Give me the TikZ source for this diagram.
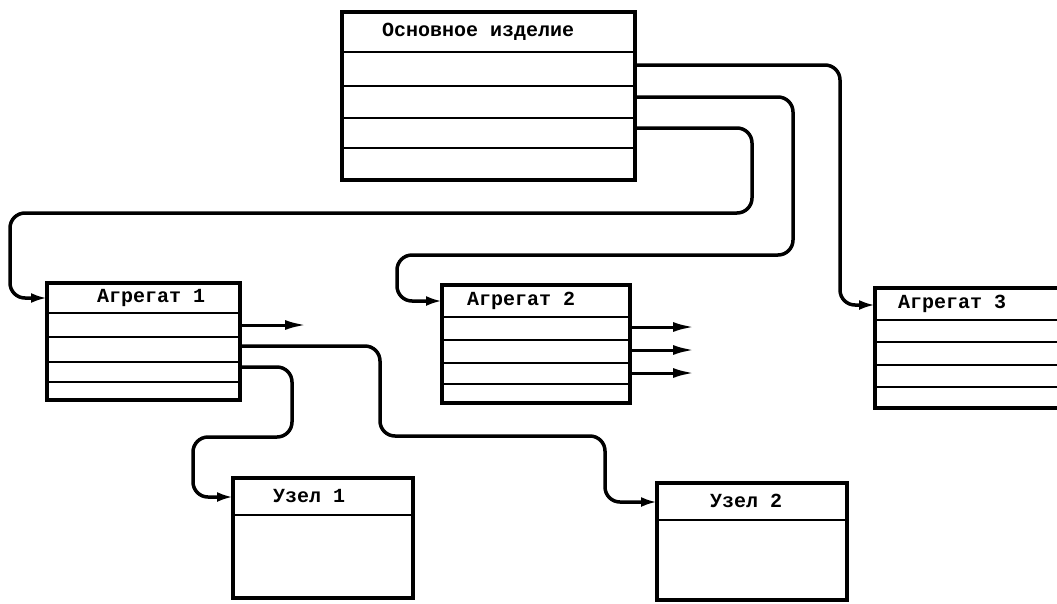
\documentclass[tikz,border=0pt]{standalone}
\usepackage{fontspec}
\newfontfamily\typewriter{Liberation Mono}
\usetikzlibrary{arrows.meta,positioning,calc}

\begin{document}
\begin{tikzpicture}[
  x=1pt, y=-1pt,
  table/.style={
    draw,
    line width=3.5pt,
    inner sep=0pt,
    outer sep=0pt,
    anchor=north west
  },
  rowline/.style={line width=2.5pt},
  title/.style={anchor=west, inner sep=0pt, font=\typewriter\bfseries\fontsize{20}{22}\selectfont},
  conn/.style={line width=3.5pt, rounded corners=15pt, -{Latex[length=16pt,width=10pt]}},
  stub/.style={line width=3pt, -{Latex[length=21pt,width=10pt]}}
]
  \clip (0,0) rectangle (1057,603);
  % tables
  \node[table, minimum width=293pt, minimum height=168pt] (osn) at (342,12) {};
  \node[table, minimum width=193pt, minimum height=117pt] (agr1) at (47,283) {};
  \node[table, minimum width=188pt, minimum height=118pt] (agr2) at (442,285) {};
  \node[table, minimum width=250pt, minimum height=120pt] (agr3) at (875,288) {};
  \node[table, minimum width=180pt, minimum height=120pt] (uzel1) at (233,478) {};
  \node[table, minimum width=190pt, minimum height=117pt] (uzel2) at (657,483) {};
  % rows
  \foreach \d in {40,74,106,136}
    \draw[rowline] ([yshift=-\d pt]osn.north west) -- ([yshift=-\d pt]osn.north east);
  \foreach \d in {30,54,79,99}
    \draw[rowline] ([yshift=-\d pt]agr1.north west) -- ([yshift=-\d pt]agr1.north east);
  \foreach \d in {32,55,78,99}
    \draw[rowline] ([yshift=-\d pt]agr2.north west) -- ([yshift=-\d pt]agr2.north east);
  \foreach \d in {32,54,77,99}
    \draw[rowline] ([yshift=-\d pt]agr3.north west) -- ([yshift=-\d pt]agr3.north east);
  \draw[rowline] ([yshift=-37pt]uzel1.north west) -- ([yshift=-37pt]uzel1.north east);
  \draw[rowline] ([yshift=-37pt]uzel2.north west) -- ([yshift=-37pt]uzel2.north east);
  % titles
  \node[title] (osn-t) at ([xshift=40pt,yshift=-20pt]osn.north west) {Основное изделие};
  \node[title] (agr1-t) at ([xshift=50pt,yshift=-15pt]agr1.north west) {Агрегат 1};
  \node[title] (agr2-t) at ([xshift=25pt,yshift=-16pt]agr2.north west) {Агрегат 2};
  \node[title] (agr3-t) at ([xshift=23pt,yshift=-16pt]agr3.north west) {Агрегат 3};
  \node[title] (uzel1-t) at ([xshift=40pt,yshift=-18pt]uzel1.north west) {Узел 1};
  \node[title] (uzel2-t) at ([xshift=53pt,yshift=-18pt]uzel2.north west) {Узел 2};
  % links
  \draw[conn] ([yshift=-53pt]osn.north east) -- ++(205,0) |- ([yshift=-17pt]agr3.north west);
  \draw[conn] ([yshift=-85pt]osn.north east) -- ++(158,0) |- (397,255) |- ([yshift=-16pt]agr2.north west);
  \draw[conn] ([yshift=-116pt]osn.north east) -- ++(117,0) |- (10,213) |- ([yshift=-15pt]agr1.north west);
  \draw[conn] ([yshift=-63pt]agr1.north east) -- ++(140,0) |- (605,436) |- ([yshift=-19pt]uzel2.north west);
  \draw[conn] ([yshift=-84pt]agr1.north east) -- ++(52,0) |- (193,437) |- ([yshift=-19pt]uzel1.north west);
  % open outputs
  \coordinate (agr1-out) at (306,325);
  \coordinate (agr2-out1) at (694,327);
  \coordinate (agr2-out2) at (694,350);
  \coordinate (agr2-out3) at (694,373);
  \draw[stub] ([yshift=-42pt]agr1.north east) -- (agr1-out);
  \draw[stub] ([yshift=-42pt]agr2.north east) -- (agr2-out1);
  \draw[stub] ([yshift=-65pt]agr2.north east) -- (agr2-out2);
  \draw[stub] ([yshift=-88pt]agr2.north east) -- (agr2-out3);
\end{tikzpicture}
\end{document}
